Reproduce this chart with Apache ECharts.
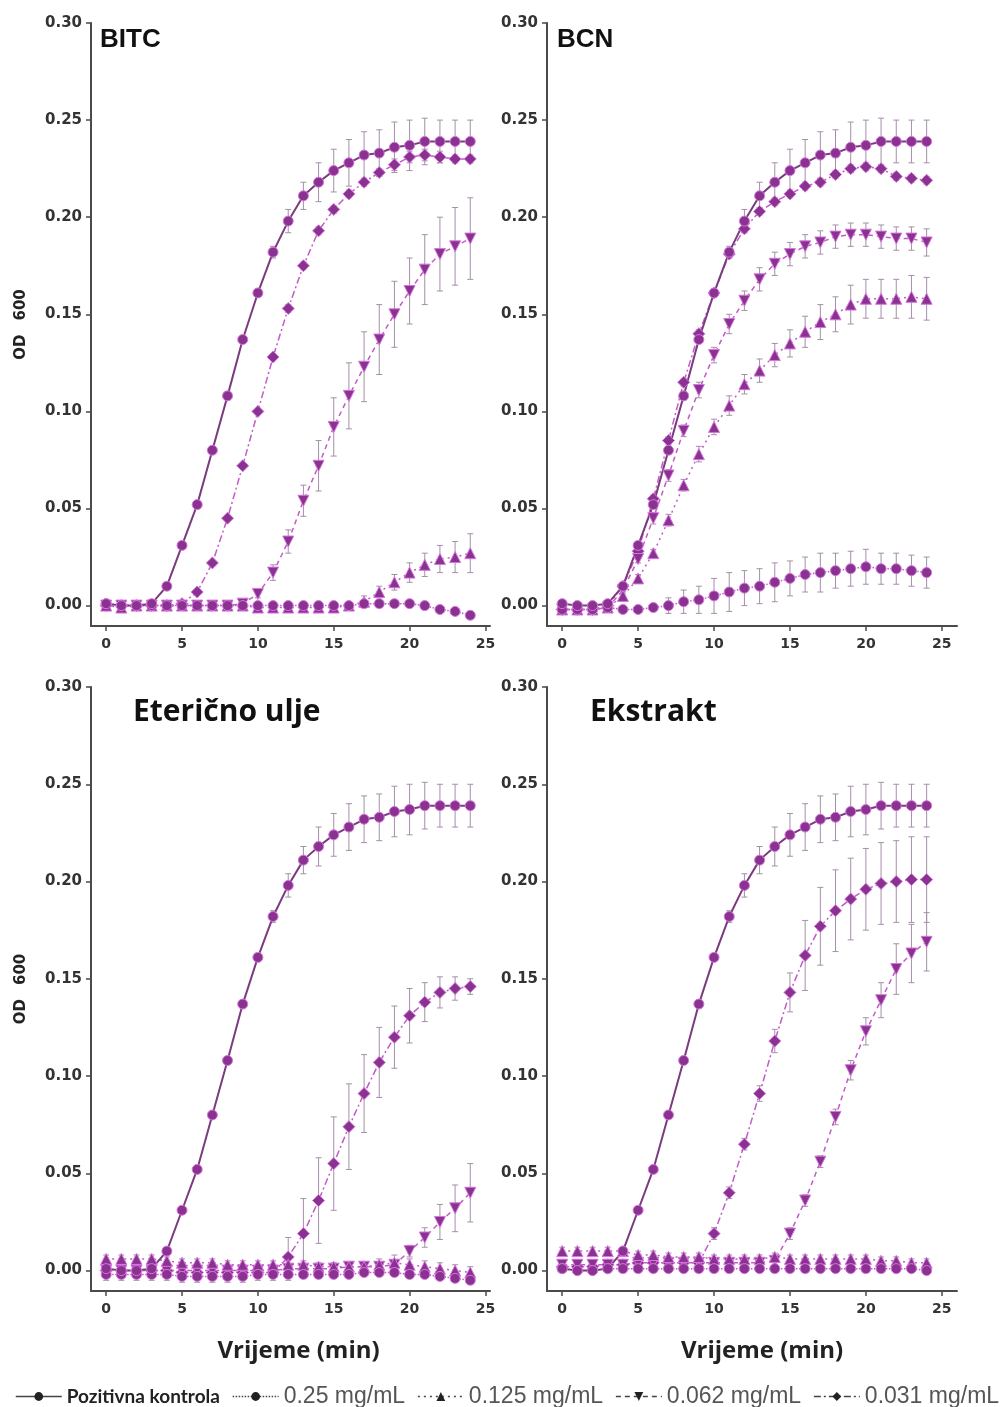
<!DOCTYPE html>
<html><head><meta charset="utf-8">
<script src="https://cdn.jsdelivr.net/npm/echarts@6/dist/echarts.min.js"></script>
<style>html,body{margin:0;padding:0;background:#fff}#c{width:1003px;height:1407px}</style>
</head><body><div id="c"></div>
<script>
const times = [0,1,2,3,4,5,6,7,8,9,10,11,12,13,14,15,16,17,18,19,20,21,22,23,24];
const xTicks = [0,5,10,15,20,25];
const yTicks = [0,0.05,0.10,0.15,0.20,0.25,0.30];
const seriesNames = ['Pozitivna kontrola','0.25 mg/mL','0.125 mg/mL','0.062 mg/mL','0.031 mg/mL'];
const panelTitles = ['BITC','BCN','Eterično ulje','Ekstrakt'];
const xAxisTitle = 'Vrijeme (min)';

// Positive control (same in every panel)
const ctrl    = [0.001,0.000,0.000,0.001,0.010,0.031,0.052,0.080,0.108,0.137,0.161,0.182,0.198,0.211,0.218,0.224,0.228,0.232,0.233,0.236,0.237,0.239,0.239,0.239,0.239];
const ctrlErr = [0.002,0.001,0.001,0.001,0.001,0.001,0.001,0.001,0.002,0.002,0.002,0.003,0.006,0.007,0.010,0.011,0.012,0.012,0.012,0.013,0.013,0.012,0.011,0.011,0.011];

// BITC
const bitc025     = [0.001,0.000,0.000,0.000,0.000,0.000,0.000,0.000,0.000,0.000,0.000,0.000,0.000,0.000,0.000,0.000,0.000,0.001,0.001,0.001,0.001,0.000,-0.002,-0.003,-0.005];
const bitc025Err  = [0.002,0.002,0.001,0.001,0.001,0.001,0.001,0.001,0.001,0.001,0.001,0.001,0.001,0.001,0.001,0.001,0.001,0.002,0.001,0.001,0.001,0.001,0.001,0.001,0.001];
const bitc0125    = [0.000,-0.001,0.000,0.000,0.000,0.000,0.000,0.000,0.000,0.000,-0.001,-0.001,-0.001,-0.001,-0.001,-0.001,0.000,0.002,0.007,0.012,0.017,0.021,0.024,0.025,0.027];
const bitc0125Err = [0.002,0.001,0.001,0.001,0.001,0.001,0.001,0.001,0.001,0.001,0.001,0.001,0.001,0.001,0.001,0.001,0.002,0.003,0.003,0.004,0.005,0.006,0.007,0.008,0.010];
const bitc0062    = [0.000,0.000,0.000,0.000,0.000,0.000,0.000,0.000,0.000,0.001,0.006,0.017,0.033,0.054,0.072,0.092,0.108,0.123,0.137,0.150,0.162,0.173,0.181,0.185,0.189];
const bitc0062Err = [0.001,0.001,0.001,0.001,0.001,0.001,0.001,0.001,0.001,0.001,0.002,0.004,0.006,0.008,0.013,0.015,0.017,0.018,0.018,0.017,0.017,0.018,0.019,0.020,0.021];
const bitc0031    = [0.000,0.000,0.000,0.000,0.000,0.001,0.007,0.022,0.045,0.072,0.100,0.128,0.153,0.175,0.193,0.204,0.212,0.218,0.223,0.227,0.231,0.232,0.231,0.230,0.230];
const bitc0031Err = [0.001,0.001,0.001,0.001,0.001,0.001,0.001,0.001,0.001,0.001,0.001,0.001,0.002,0.002,0.002,0.002,0.002,0.002,0.002,0.003,0.003,0.003,0.003,0.002,0.002];

// BCN
const bcn025     = [-0.002,-0.002,-0.002,-0.001,-0.002,-0.002,-0.001,0.000,0.002,0.003,0.005,0.007,0.009,0.010,0.012,0.014,0.016,0.017,0.018,0.019,0.020,0.019,0.019,0.018,0.017];
const bcn025Err  = [0.001,0.001,0.001,0.001,0.001,0.001,0.002,0.004,0.006,0.007,0.009,0.010,0.009,0.009,0.010,0.009,0.009,0.010,0.009,0.009,0.009,0.008,0.008,0.008,0.008];
const bcn0125    = [-0.002,-0.002,-0.002,-0.001,0.005,0.014,0.027,0.044,0.062,0.078,0.092,0.103,0.114,0.121,0.129,0.135,0.141,0.146,0.150,0.155,0.158,0.158,0.158,0.159,0.158];
const bcn0125Err = [0.001,0.001,0.001,0.001,0.002,0.002,0.002,0.003,0.003,0.004,0.004,0.005,0.005,0.006,0.006,0.007,0.008,0.009,0.009,0.010,0.010,0.010,0.010,0.011,0.011];
const bcn0062    = [-0.002,-0.002,-0.002,-0.001,0.008,0.024,0.045,0.067,0.090,0.111,0.129,0.145,0.157,0.168,0.176,0.181,0.185,0.187,0.190,0.191,0.191,0.190,0.189,0.189,0.187];
const bcn0062Err = [0.001,0.001,0.001,0.001,0.002,0.002,0.003,0.003,0.003,0.004,0.004,0.005,0.005,0.006,0.006,0.006,0.006,0.006,0.006,0.006,0.006,0.006,0.006,0.006,0.007];
const bcn0031    = [-0.002,-0.002,-0.002,0.000,0.010,0.028,0.055,0.085,0.115,0.140,0.161,0.181,0.194,0.203,0.208,0.212,0.216,0.218,0.222,0.225,0.226,0.225,0.221,0.220,0.219];
const bcn0031Err = [0.001,0.001,0.001,0.001,0.002,0.002,0.002,0.002,0.002,0.002,0.002,0.002,0.002,0.002,0.002,0.002,0.002,0.002,0.002,0.002,0.002,0.002,0.002,0.002,0.002];

// Etericno ulje
const eu025     = [-0.002,-0.002,-0.002,-0.002,-0.002,-0.003,-0.003,-0.003,-0.003,-0.003,-0.002,-0.002,-0.002,-0.002,-0.002,-0.002,-0.002,-0.001,-0.001,-0.001,-0.002,-0.002,-0.003,-0.004,-0.005];
const eu025Err  = [0.003,0.003,0.003,0.003,0.003,0.003,0.003,0.003,0.003,0.003,0.003,0.003,0.003,0.002,0.002,0.002,0.002,0.002,0.002,0.002,0.002,0.002,0.002,0.002,0.002];
const eu0125    = [0.006,0.006,0.006,0.006,0.005,0.004,0.004,0.004,0.003,0.003,0.003,0.003,0.003,0.003,0.002,0.002,0.002,0.002,0.003,0.004,0.003,0.002,0.001,0.000,-0.001];
const eu0125Err = [0.002,0.002,0.002,0.002,0.002,0.002,0.002,0.002,0.002,0.002,0.002,0.002,0.002,0.002,0.002,0.002,0.002,0.002,0.003,0.004,0.003,0.003,0.003,0.003,0.003];
const eu0062    = [0.000,0.000,0.000,0.000,0.000,0.000,0.000,0.000,0.000,0.000,0.000,0.000,0.001,0.001,0.001,0.001,0.002,0.002,0.002,0.003,0.010,0.017,0.025,0.032,0.040];
const eu0062Err = [0.001,0.001,0.001,0.001,0.001,0.001,0.001,0.001,0.001,0.001,0.001,0.001,0.001,0.001,0.001,0.001,0.001,0.001,0.001,0.002,0.003,0.005,0.009,0.012,0.015];
const eu0031    = [0.000,0.000,0.000,0.000,0.000,-0.001,-0.001,-0.001,-0.001,-0.001,-0.001,-0.001,0.007,0.019,0.036,0.055,0.074,0.091,0.107,0.120,0.131,0.138,0.143,0.145,0.146];
const eu0031Err = [0.002,0.002,0.002,0.002,0.002,0.002,0.002,0.002,0.002,0.002,0.002,0.002,0.010,0.018,0.022,0.024,0.022,0.020,0.018,0.016,0.014,0.010,0.008,0.006,0.004];

// Ekstrakt
const ek025     = [0.001,0.000,0.000,0.001,0.001,0.001,0.001,0.001,0.001,0.001,0.001,0.001,0.001,0.001,0.001,0.001,0.001,0.001,0.001,0.001,0.001,0.001,0.001,0.001,0.000];
const ek025Err  = [0.002,0.002,0.002,0.002,0.002,0.002,0.002,0.002,0.002,0.002,0.002,0.002,0.002,0.002,0.002,0.002,0.002,0.002,0.002,0.002,0.002,0.002,0.002,0.002,0.002];
const ek0125    = [0.010,0.010,0.010,0.010,0.010,0.008,0.008,0.007,0.007,0.007,0.006,0.006,0.006,0.006,0.007,0.006,0.006,0.006,0.006,0.006,0.006,0.005,0.005,0.004,0.004];
const ek0125Err = [0.002,0.002,0.002,0.002,0.002,0.002,0.002,0.002,0.002,0.002,0.002,0.002,0.002,0.002,0.002,0.002,0.002,0.002,0.002,0.002,0.002,0.002,0.002,0.002,0.002];
const ek0062    = [0.003,0.003,0.003,0.003,0.003,0.004,0.004,0.004,0.004,0.004,0.004,0.004,0.004,0.004,0.005,0.019,0.036,0.056,0.079,0.103,0.123,0.139,0.155,0.163,0.169];
const ek0062Err = [0.002,0.002,0.002,0.002,0.002,0.002,0.002,0.002,0.002,0.002,0.002,0.002,0.002,0.002,0.003,0.003,0.003,0.003,0.004,0.005,0.007,0.009,0.013,0.015,0.015];
const ek0031    = [0.002,0.002,0.002,0.003,0.003,0.004,0.004,0.004,0.004,0.004,0.019,0.040,0.065,0.091,0.118,0.143,0.162,0.177,0.185,0.191,0.196,0.199,0.200,0.201,0.201];
const ek0031Err = [0.002,0.002,0.002,0.002,0.002,0.002,0.002,0.002,0.002,0.002,0.003,0.003,0.003,0.004,0.006,0.010,0.018,0.020,0.021,0.021,0.021,0.021,0.021,0.022,0.022];

const panels = [
  {vals:[ctrl,bitc025,bitc0125,bitc0062,bitc0031], errs:[ctrlErr,bitc025Err,bitc0125Err,bitc0062Err,bitc0031Err]},
  {vals:[ctrl,bcn025,bcn0125,bcn0062,bcn0031],     errs:[ctrlErr,bcn025Err,bcn0125Err,bcn0062Err,bcn0031Err]},
  {vals:[ctrl,eu025,eu0125,eu0062,eu0031],         errs:[ctrlErr,eu025Err,eu0125Err,eu0062Err,eu0031Err]},
  {vals:[ctrl,ek025,ek0125,ek0062,ek0031],         errs:[ctrlErr,ek025Err,ek0125Err,ek0062Err,ek0031Err]}
];

const grids = [
  {left:91, top:23, width:399, height:603},
  {left:547, top:23, width:410, height:603},
  {left:91, top:687, width:399, height:604},
  {left:547, top:687, width:410, height:604}
];
const xMax = [25.3, 26, 25.3, 26];

const styles = [
  {symbol:'circle', type:'solid', color:'#7a3b7f', width:2, size:10},
  {symbol:'circle', type:'dotted', color:'#c25bc8', width:1.5, size:10},
  {symbol:'triangle', type:[2,4], color:'#c25bc8', width:1.5, size:11},
  {symbol:'path://M0,0L10,0L5,9Z', type:[5,4], color:'#c25bc8', width:1.5, size:11},
  {symbol:'diamond', type:[7,3,2,3], color:'#c25bc8', width:1.5, size:12}
];

const axisColor = '#4a4a4a';
const yTickFont = {fontFamily:'DejaVu Sans', fontWeight:'bold', fontSize:15, color:'#333'};
const xTickFont = {fontFamily:'DejaVu Sans', fontWeight:'bold', fontSize:14, color:'#333'};

function errRender(params, api) {
  const x = api.value(0), y = api.value(1), e = api.value(2);
  const hi = api.coord([x, y + e]);
  const lo = api.coord([x, y - e]);
  const w = 3;
  const st = {stroke:'#a48fa8', lineWidth:1};
  return {type:'group', children:[
    {type:'line', shape:{x1:hi[0], y1:hi[1], x2:lo[0], y2:lo[1]}, style:st},
    {type:'line', shape:{x1:hi[0]-w, y1:hi[1], x2:hi[0]+w, y2:hi[1]}, style:st},
    {type:'line', shape:{x1:lo[0]-w, y1:lo[1], x2:lo[0]+w, y2:lo[1]}, style:st}
  ]};
}

const xAxes = [], yAxes = [], series = [];
panels.forEach((p, i) => {
  const bottomRow = i >= 2;
  xAxes.push({
    type:'value', gridIndex:i, min:-1, max:xMax[i],
    axisLine:{onZero:false, lineStyle:{color:axisColor, width:2}},
    axisTick:{customValues:xTicks, length:5, lineStyle:{color:axisColor, width:1.5}},
    axisLabel:Object.assign({customValues:xTicks, margin:11}, xTickFont),
    splitLine:{show:false},
    name: bottomRow ? xAxisTitle : '',
    nameLocation:'middle', nameGap:48,
    nameTextStyle:{fontFamily:'Open Sans', fontWeight:'bold', fontSize:24, color:'#222', padding:[0,0,0, i===2?16:20]}
  });
  yAxes.push({
    type:'value', gridIndex:i, min:-0.0105, max:0.30,
    axisLine:{onZero:false, lineStyle:{color:axisColor, width:2}},
    axisTick:{customValues:yTicks, length:5, lineStyle:{color:axisColor, width:1.5}},
    axisLabel:Object.assign({customValues:yTicks, margin:9, formatter:v => v.toFixed(2)}, yTickFont),
    splitLine:{show:false},
    name: (i % 2 === 0) ? '{a|OD}{b|600}' : '',
    nameLocation:'middle', nameRotate:90, nameGap:62,
    nameTextStyle:{rich:{
      a:{fontFamily:'DejaVu Sans', fontWeight:'bold', fontSize:15, color:'#222'},
      b:{fontFamily:'DejaVu Sans', fontWeight:'bold', fontSize:15, color:'#222', padding:[0,0,0,14]}
    }}
  });
  for (let s = 4; s >= 0; s--) {
    const vals = p.vals[s], errs = p.errs[s];
    series.push({
      type:'custom', name:'err'+i+'_'+s, xAxisIndex:i, yAxisIndex:i, silent:true, z:2,
      renderItem:errRender,
      data:times.map((t, k) => [t, vals[k], errs[k]])
    });
  }
  for (let s = 4; s >= 0; s--) {
    const vals = p.vals[s], st = styles[s];
    series.push({
      type:'line', name:seriesNames[s], xAxisIndex:i, yAxisIndex:i, z:3,
      data:times.map((t, k) => [t, vals[k]]),
      symbol:st.symbol, symbolSize:st.size, showSymbol:true, animation:false,
      lineStyle:{color:st.color, width:st.width, type:st.type},
      itemStyle:{color:'#8a3290', borderColor:'#d774df', borderWidth:1}
    });
  }
});

const titles = [
  {text:panelTitles[0], left:95, top:22, textStyle:{fontFamily:'Liberation Sans', fontWeight:'bold', fontSize:26, color:'#111'}},
  {text:panelTitles[1], left:552, top:22, textStyle:{fontFamily:'Liberation Sans', fontWeight:'bold', fontSize:26, color:'#111'}},
  {text:panelTitles[2], left:128, top:692, textStyle:{fontFamily:'Open Sans', fontWeight:'bold', fontSize:30, color:'#111'}},
  {text:panelTitles[3], left:585, top:692, textStyle:{fontFamily:'Open Sans', fontWeight:'bold', fontSize:30, color:'#111'}}
];

const chart = echarts.init(document.getElementById('c'), null, {renderer:'canvas'});
chart.setOption({
  backgroundColor:'#fff',
  animation:false,
  title:titles,
  grid:grids.map(g => Object.assign({outerBoundsMode:'none', containLabel:false}, g)),
  xAxis:xAxes,
  yAxis:yAxes,
  legend:{
    data:seriesNames, left:10, top:1380, width:993, itemWidth:46, itemHeight:11, itemGap:12,
    itemStyle:{color:'#222', borderWidth:0},
    lineStyle:{color:'#444', width:1.5},
    formatter:name => name === seriesNames[0] ? '{a|' + name + '}' : '{b|' + name + '}',
    textStyle:{rich:{
      a:{fontFamily:'Lato', fontWeight:'bold', fontSize:19, color:'#222'},
      b:{fontFamily:'Liberation Sans', fontSize:23, color:'#555'}
    }}
  },
  series:series
});
</script>
</body></html>
